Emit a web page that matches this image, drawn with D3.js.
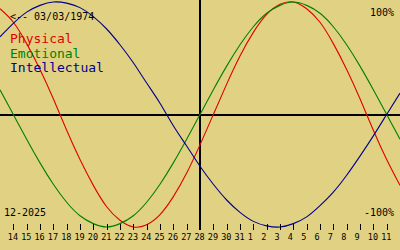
<!DOCTYPE html>
<html>
<head>
<meta charset="utf-8">
<script src="https://cdn.jsdelivr.net/npm/d3@7"></script>
<style>
  body { margin: 0; background: #e1d283; }
  svg { display: block; }
  text { font-family: "DejaVu Sans Mono", monospace; }
</style>
</head>
<body>
<div id="chart"></div>
<script>
// Chart size
var svgWidth = 400;
var svgHeight = 250;

// Days shown on the chart (one value per day)
var days = [
  "2025-12-13", "2025-12-14", "2025-12-15", "2025-12-16", "2025-12-17", "2025-12-18",
  "2025-12-19", "2025-12-20", "2025-12-21", "2025-12-22", "2025-12-23", "2025-12-24",
  "2025-12-25", "2025-12-26", "2025-12-27", "2025-12-28", "2025-12-29", "2025-12-30",
  "2025-12-31", "2026-01-01", "2026-01-02", "2026-01-03", "2026-01-04", "2026-01-05",
  "2026-01-06", "2026-01-07", "2026-01-08", "2026-01-09", "2026-01-10", "2026-01-11",
  "2026-01-12"
];

// Day labels on the bottom axis
var tickDays = days.slice(1, 30);

var today = "2025-12-28";

// Cycle values, -1 .. 1
var physical = [
  0.94, 0.82, 0.63, 0.40, 0.14, -0.14, -0.40, -0.63, -0.82, -0.94, -1.00,
  -0.98, -0.89, -0.73, -0.52, -0.27, 0.00, 0.27, 0.52, 0.73, 0.89, 0.98,
  1.00, 0.94, 0.82, 0.63, 0.40, 0.14, -0.14, -0.40, -0.63
];
var emotional = [
  0.22, 0.00, -0.22, -0.43, -0.62, -0.78, -0.90, -0.97, -1.00, -0.97, -0.90,
  -0.78, -0.62, -0.43, -0.22, 0.00, 0.22, 0.43, 0.62, 0.78, 0.90, 0.97,
  1.00, 0.97, 0.90, 0.78, 0.62, 0.43, 0.22, 0.00, -0.22
];
var intellectual = [
  0.69, 0.81, 0.91, 0.97, 1.00, 0.99, 0.95, 0.87, 0.76, 0.62, 0.46,
  0.28, 0.10, -0.10, -0.28, -0.46, -0.62, -0.76, -0.87, -0.95, -0.99, -1.00,
  -0.97, -0.91, -0.81, -0.69, -0.54, -0.37, -0.19, 0.00, 0.19
];

var series = [
  { name: "Physical", values: physical, color: "#e00000" },
  { name: "Emotional", values: emotional, color: "#008000" },
  { name: "Intellectual", values: intellectual, color: "#00008c" }
];

var parseDay = d3.timeParse("%Y-%m-%d");
var dates = days.map(parseDay);

var svg = d3.select("#chart")
  .append("svg")
  .attr("width", svgWidth)
  .attr("height", svgHeight);

svg.append("rect")
  .attr("width", svgWidth)
  .attr("height", svgHeight)
  .attr("fill", "#e1d283");

// Scales
var x = d3.scaleTime()
  .domain(d3.extent(dates))
  .range([0, svgWidth]);

var y = d3.scaleLinear()
  .domain([-1, 1])
  .range([227, 2]);

// Zero line and today line
svg.append("line")
  .attr("x1", 0)
  .attr("x2", svgWidth)
  .attr("y1", Math.round(y(0)))
  .attr("y2", Math.round(y(0)))
  .attr("stroke", "black")
  .attr("stroke-width", 2);

svg.append("line")
  .attr("x1", x(parseDay(today)))
  .attr("x2", x(parseDay(today)))
  .attr("y1", 0)
  .attr("y2", 230)
  .attr("stroke", "black")
  .attr("stroke-width", 2);

// Curves
var line = d3.line()
  .x((d, i) => x(dates[i]))
  .y(d => y(d))
  .curve(d3.curveNatural);

svg.selectAll(".cycle")
  .data(series)
  .enter()
  .append("path")
  .attr("class", "cycle")
  .attr("d", d => line(d.values))
  .attr("fill", "none")
  .attr("stroke", d => d.color)
  .attr("stroke-width", 1.1);

// Bottom axis with day numbers
var bottomAxis = d3.axisBottom(x)
  .tickValues(tickDays.map(parseDay))
  .tickSize(6)
  .tickFormat(d3.timeFormat("%-d"));

var xAxis = svg.append("g")
  .attr("transform", "translate(0, 224)")
  .call(bottomAxis);

xAxis.select(".domain").remove();
xAxis.selectAll(".tick line")
  .attr("stroke", "black")
  .attr("shape-rendering", "crispEdges");
xAxis.selectAll(".tick text")
  .attr("y", 16)
  .attr("dy", 0)
  .attr("x", -6)
  .attr("text-anchor", "start")
  .attr("fill", "black")
  .attr("font-family", "DejaVu Sans Mono")
  .attr("font-size", "8.5px");

// Texts
svg.append("text")
  .attr("x", 10)
  .attr("y", 20)
  .attr("font-size", "10px")
  .attr("fill", "black")
  .text("<-- 03/03/1974");

svg.selectAll(".legend")
  .data(series)
  .enter()
  .append("text")
  .attr("class", "legend")
  .attr("x", 10)
  .attr("y", (d, i) => 43 + i * 14.5)
  .attr("font-size", "13px")
  .attr("fill", d => d.color)
  .text(d => d.name);

svg.append("text")
  .attr("x", 394)
  .attr("y", 16)
  .attr("text-anchor", "end")
  .attr("font-size", "10px")
  .attr("fill", "black")
  .text("100%");

svg.append("text")
  .attr("x", 394)
  .attr("y", 216)
  .attr("text-anchor", "end")
  .attr("font-size", "10px")
  .attr("fill", "black")
  .text("-100%");

svg.append("text")
  .attr("x", 4)
  .attr("y", 216)
  .attr("font-size", "10px")
  .attr("fill", "black")
  .text("12-2025");
</script>
</body>
</html>
